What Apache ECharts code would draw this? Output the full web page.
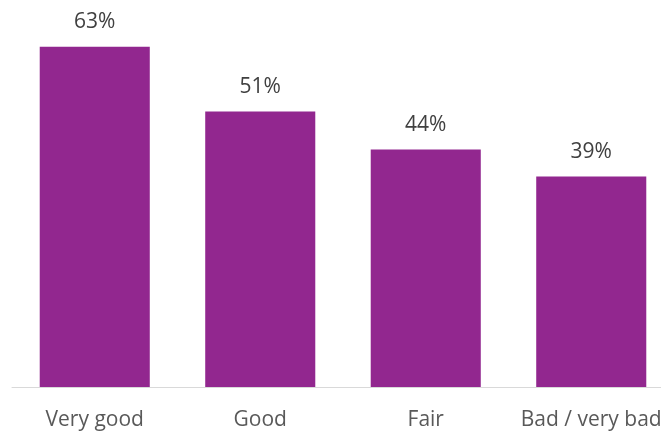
<!DOCTYPE html>
<html>
<head>
<meta charset="utf-8">
<script src="https://cdn.jsdelivr.net/npm/echarts@6/dist/echarts.min.js"></script>
<style>
  html, body { margin: 0; padding: 0; background: #ffffff; overflow: hidden; }
  #chart { width: 674px; height: 432px; }
</style>
</head>
<body>
<div id="chart"></div>
<script>
// Share of respondents by self-rated health
const categories = ['Very good', 'Good', 'Fair', 'Bad / very bad'];
const shares = [63, 51, 44, 39];

const chart = echarts.init(document.getElementById('chart'), null, { renderer: 'canvas' });
chart.setOption({
  animation: false,
  backgroundColor: '#ffffff',
  grid: { left: 12, right: 0, top: 9, bottom: 45, containLabel: false },
  xAxis: {
    type: 'category',
    data: categories,
    axisLine: { show: true, lineStyle: { color: '#D9D9D9', width: 1 } },
    axisTick: { show: false },
    axisLabel: {
      color: '#595959',
      fontFamily: '"Open Sans", sans-serif',
      fontSize: 21,
      margin: 23,
      interval: 0
    }
  },
  yAxis: {
    type: 'value',
    min: 0,
    max: 70,
    show: false,
    splitLine: { show: false }
  },
  series: [{
    type: 'bar',
    data: shares,
    barCategoryGap: '33.5%',
    itemStyle: { color: '#92278F' },
    label: {
      show: true,
      position: 'top',
      distance: 14,
      formatter: '{c}%',
      color: '#404040',
      fontFamily: '"Open Sans", sans-serif',
      fontSize: 21
    }
  }]
});
</script>
</body>
</html>
